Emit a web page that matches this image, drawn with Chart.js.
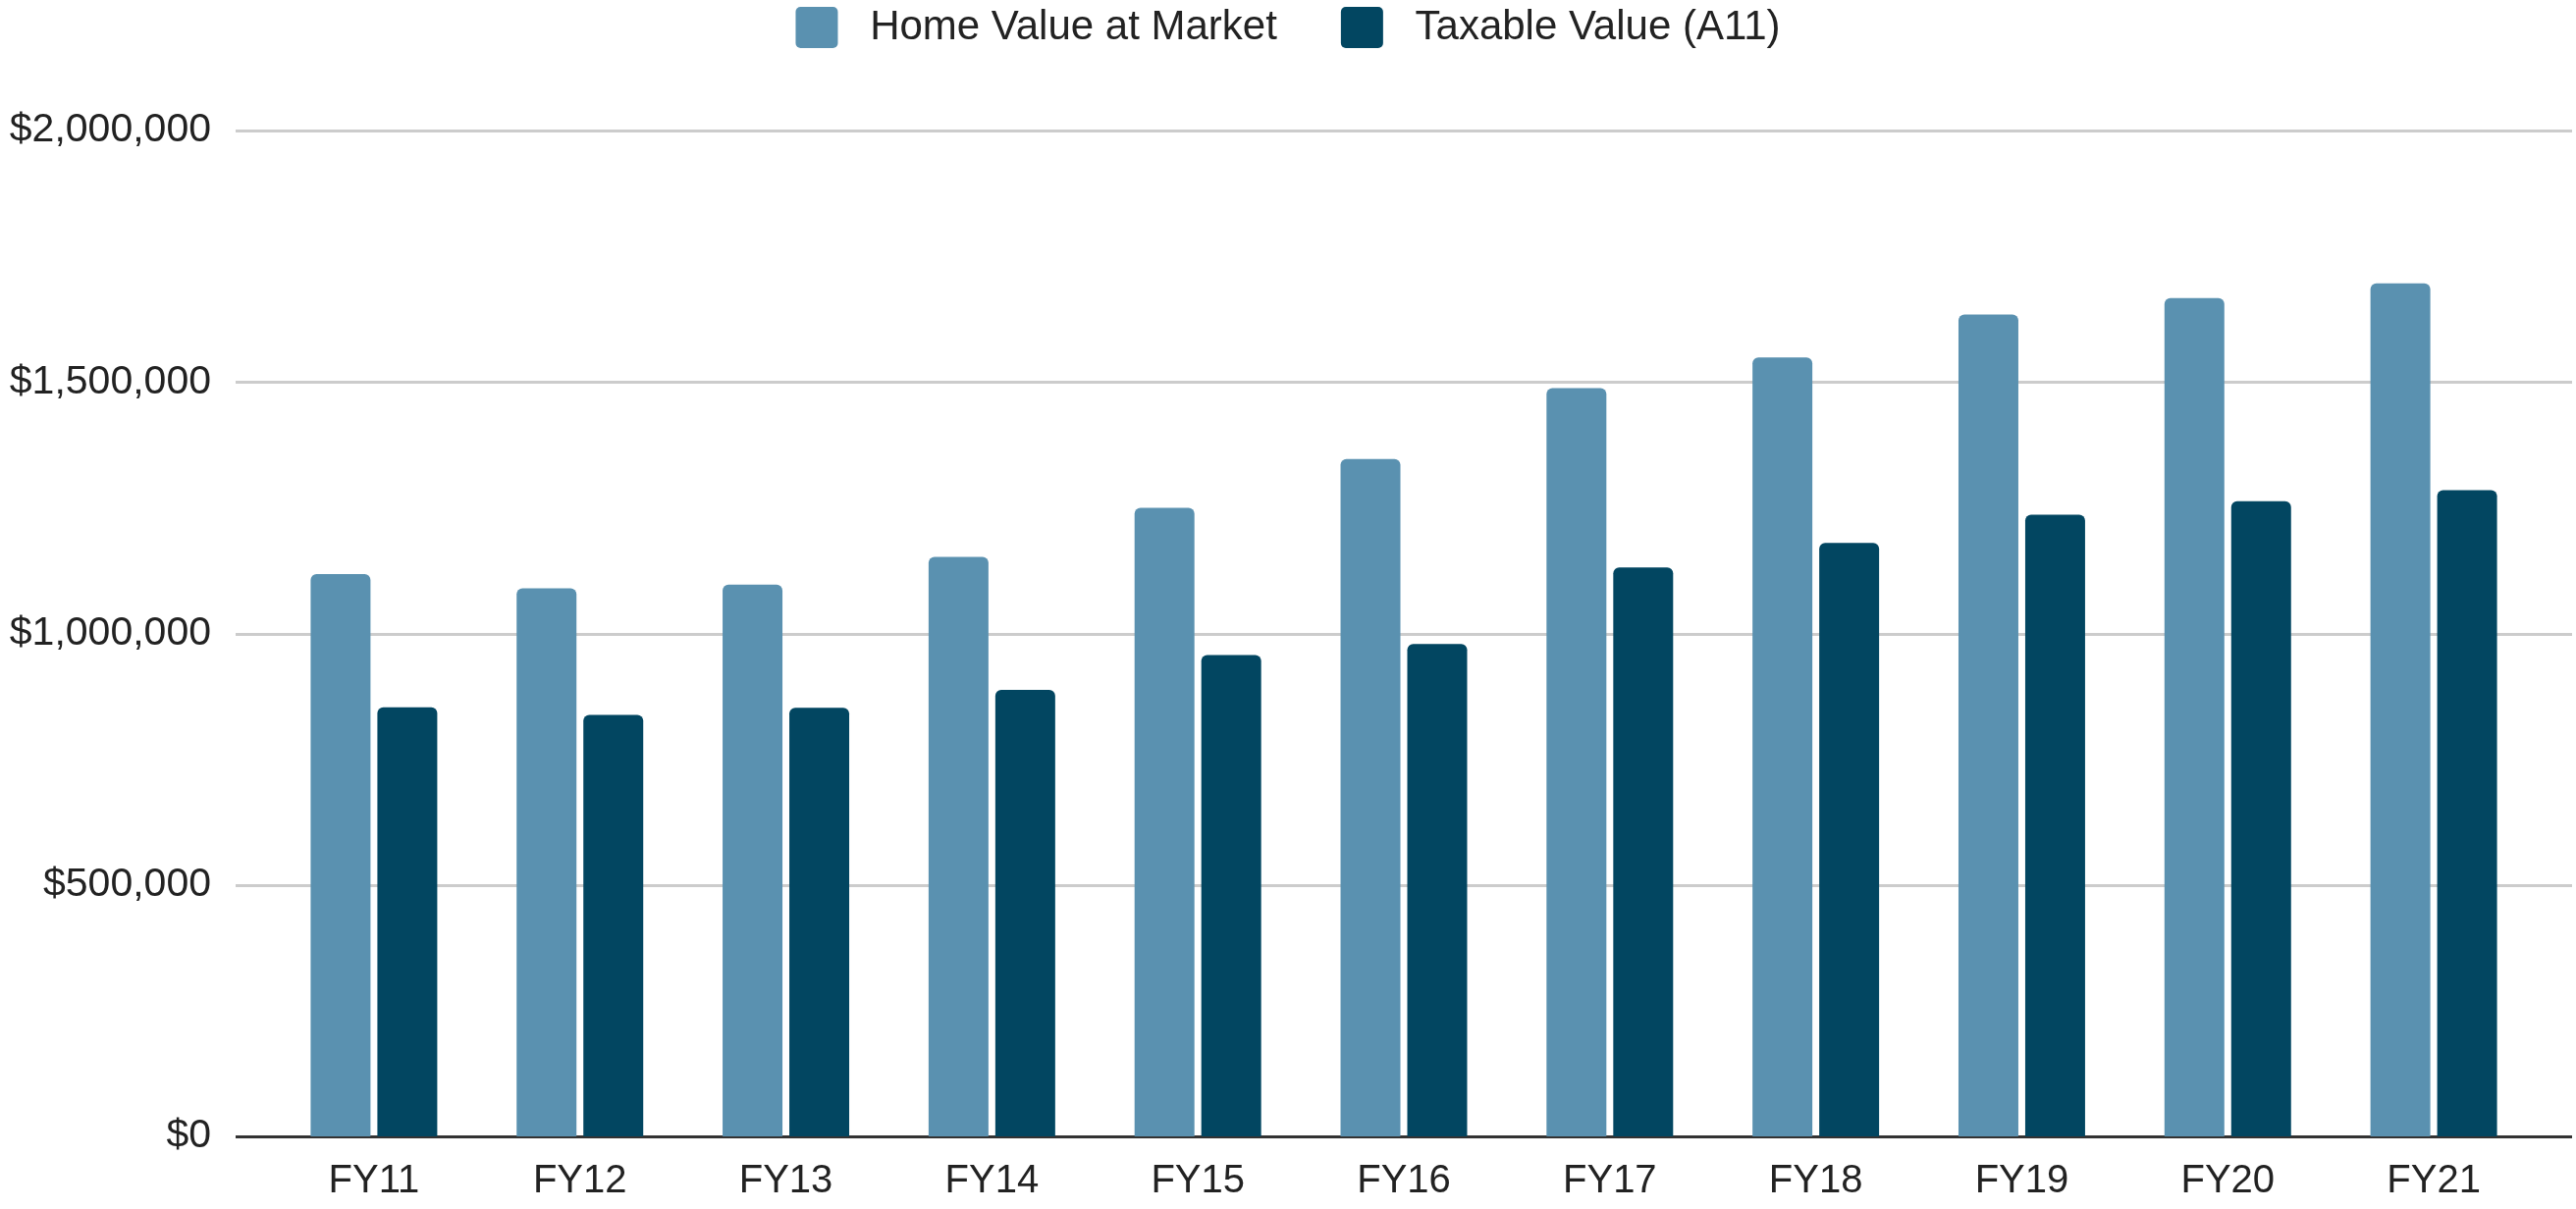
<!DOCTYPE html>
<html>
<head>
<meta charset="utf-8">
<script src="https://cdn.jsdelivr.net/npm/chart.js@4/dist/chart.umd.min.js"></script>
<style>
  html, body { margin: 0; padding: 0; background: #fff; }
  #wrap { width: 2624px; height: 1232px; position: relative; }
</style>
</head>
<body>
<div id="wrap"><canvas id="chart"></canvas></div>
<script>
const years = ["FY11", "FY12", "FY13", "FY14", "FY15", "FY16", "FY17", "FY18", "FY19", "FY20", "FY21"];
const homeValue = [1118000, 1090000, 1097000, 1152000, 1250000, 1347000, 1488000, 1549000, 1634000, 1667000, 1696000];
const taxableValue = [853000, 838000, 852000, 888000, 957000, 979000, 1131000, 1180000, 1236000, 1263000, 1285000];
const yTicks = [0, 500000, 1000000, 1500000, 2000000];

const FONT = "'Liberation Sans', Arial, sans-serif";
const chartDiv = document.getElementById("chart");

// grid lines run wider than the bar area, so draw them ourselves
const wideGrid = {
  id: "wideGrid",
  beforeDatasetsDraw(chart) {
    const { ctx, scales } = chart;
    const y = scales.y;
    ctx.save();
    yTicks.forEach((v) => {
      const py = Math.round(y.getPixelForValue(v)) + 0.5;
      ctx.beginPath();
      ctx.lineWidth = 3;
      ctx.strokeStyle = v === 0 ? "#333333" : "#cccccc";
      ctx.moveTo(240, py);
      ctx.lineTo(2620, py);
      ctx.stroke();
    });
    ctx.restore();
  },
};

// extra room under the legend
const legendGap = {
  id: "legendGap",
  beforeInit(chart) {
    const fit = chart.legend.fit;
    chart.legend.fit = function () {
      fit.bind(this)();
      this.height += 74;
    };
  },
};

new Chart(chartDiv, {
  type: "bar",
  data: {
    labels: years,
    datasets: [
      {
        label: "Home Value at Market",
        data: homeValue,
        backgroundColor: "#5a91b0",
        borderWidth: 0,
        borderRadius: { topLeft: 6, topRight: 6 },
        borderSkipped: "start",
        barPercentage: 0.897,
        categoryPercentage: 0.648,
      },
      {
        label: "Taxable Value (A11)",
        data: taxableValue,
        backgroundColor: "#024661",
        borderWidth: 0,
        borderRadius: { topLeft: 6, topRight: 6 },
        borderSkipped: "start",
        barPercentage: 0.897,
        categoryPercentage: 0.648,
      },
    ],
  },
  options: {
    responsive: true,
    maintainAspectRatio: false,
    animation: false,
    layout: { padding: { top: -58, left: 0, right: 0, bottom: 0 } },
    scales: {
      x: {
        grid: { display: false },
        border: { display: false },
        ticks: {
          color: "#222222",
          font: { family: FONT, size: 40 },
          padding: 14,
          maxRotation: 0,
        },
        afterFit: (scale) => {
          scale.height = 74;
        },
      },
      y: {
        min: 0,
        max: 2000000,
        grid: { display: false, drawTicks: false },
        border: { display: false },
        afterBuildTicks: (scale) => {
          scale.ticks = yTicks.map((v) => ({ value: v }));
        },
        ticks: {
          color: "#222222",
          font: { family: FONT, size: 41 },
          padding: 61,
          callback: (v) => "$" + Number(v).toLocaleString("en-US"),
        },
        afterFit: (scale) => {
          scale.width = 276;
          // tick padding is horizontal here, don't let it eat vertical room
          scale.paddingTop = 24;
          scale.paddingBottom = 24;
        },
      },
      pad: {
        position: "right",
        display: true,
        grid: { display: false },
        border: { display: false },
        ticks: { display: false },
        afterFit: (scale) => {
          scale.width = 40;
        },
      },
    },
    plugins: {
      legend: {
        position: "top",
        labels: {
          color: "#222222",
          font: { family: FONT, size: 42 },
          boxWidth: 43,
          boxHeight: 42,
          useBorderRadius: true,
          borderRadius: 5,
          padding: 65,
          generateLabels: (chart) => {
            const items = Chart.defaults.plugins.legend.labels.generateLabels(chart);
            items.forEach((it) => {
              it.text = " " + it.text;
            });
            return items;
          },
        },
      },
      title: { display: false },
      tooltip: { enabled: false },
    },
  },
  plugins: [wideGrid, legendGap],
});
</script>
</body>
</html>
